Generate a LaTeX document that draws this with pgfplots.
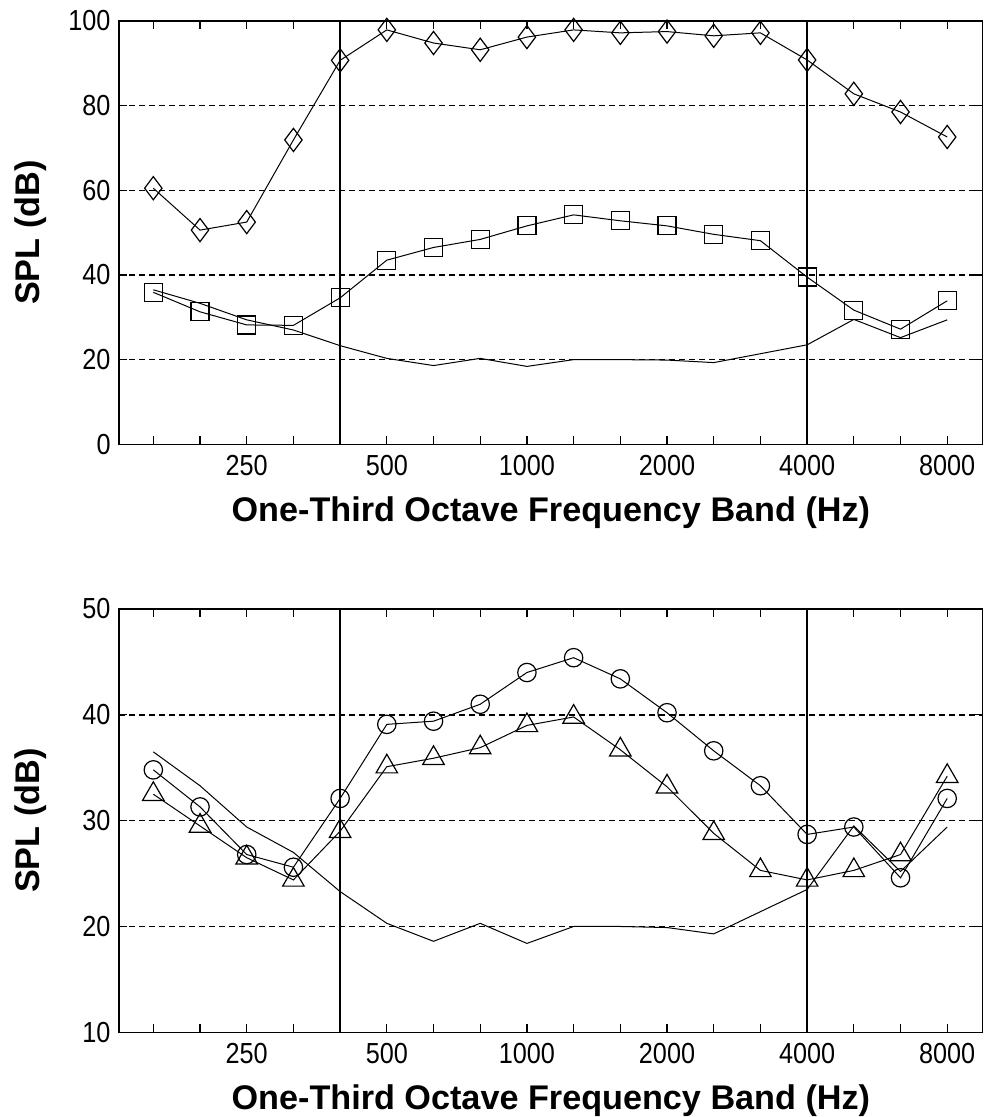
\documentclass[border=0pt]{standalone}
\usepackage{fontspec}
\setmainfont{Liberation Sans}
\newfontfamily\tickfont[FakeStretch=0.87]{Liberation Sans}
\usepackage{pgfplots}
\usepackage{pgfplotstable}
\pgfplotsset{compat=1.18}

% band index: 1=160 Hz ... 18=8000 Hz
\pgfplotstableread{
i  noise  diam  sq    circ  tri
1  36.5   60.5  35.9  34.8  32.5
2  33.3   50.6  31.3  31.3  29.5
3  29.4   52.5  28.2  26.8  26.5
4  27.0   71.9  28.1  25.6  24.4
5  23.3   90.7  34.6  32.1  29.0
6  20.3   97.9  43.5  39.1  35.1
7  18.6   94.8  46.5  39.4  35.9
8  20.3   93.2  48.4  41.0  36.9
9  18.4   96.2  51.6  44.0  39.0
10 20.0   97.9  54.2  45.4  39.8
11 20.0   97.2  52.8  43.4  36.7
12 19.9   97.5  51.6  40.2  33.2
13 19.3   96.5  49.6  36.6  28.8
14 21.4   97.2  48.1  33.3  25.3
15 23.5   90.8  39.5  28.7  24.4
16 29.5   82.8  31.7  29.4  25.3
17 25.2   78.5  27.2  24.6  26.8
18 29.4   72.6  33.9  32.1  34.2
}\bands

\pgfplotsset{
  myaxis/.style={
    scale only axis, width=431.85pt, height=211.65pt,
    xmin=0.265, xmax=18.76,
    xtick={1,...,18},
    xticklabels={,,250,,,500,,,1000,,,2000,,,4000,,,8000},
    tick align=inside, major tick length=4pt,
    ymajorgrids,
    grid style={dash pattern=on 3.2pt off 1.8pt, line width=0.7pt, black},
    axis line style={line width=0.7pt},
    every tick/.style={line width=0.6pt, black},
    /pgf/number format/assume math mode=true,
    ticklabel style={font=\tickfont\fontsize{14.5}{16}\selectfont},
    xticklabel style={yshift=-2pt},
    yticklabel style={xshift=-0.7pt},
    label style={font=\bfseries\fontsize{17.1}{20}\selectfont},
    xlabel={One-Third Octave Frequency Band (Hz)},
    ylabel={SPL (dB)},
    xlabel style={at={(axis description cs:0.5,-0.161)}, anchor=center},
    ylabel style={at={(axis description cs:-0.1025,0.5)}, anchor=center},
    clip=false,
  },
  dline/.style={black, line width=0.5pt, mark options={solid, line width=0.6pt}},
}

\begin{document}
\begin{tikzpicture}
\path[use as bounding box] (0,0) rectangle (492pt,-558.5pt);

\begin{axis}[myaxis, at={(59.5pt,-222.15pt)}, anchor=south west,
  ymin=0, ymax=100, ytick={0,20,40,60,80,100}]
  \addplot[black, line width=0.8pt] coordinates {(5,0) (5,100)};
  \addplot[black, line width=0.8pt] coordinates {(15,0) (15,100)};
  \addplot[dline, no marks] table[x=i, y=noise] {\bands};
  \addplot[dline, mark=square, mark size=4.5pt] table[x=i, y=sq] {\bands};
  \addplot[dline, mark=diamond, mark size=5.8pt] table[x=i, y=diam] {\bands};
\end{axis}

\begin{axis}[myaxis, at={(59.5pt,-516.15pt)}, anchor=south west,
  ymin=10, ymax=50, ytick={10,20,30,40,50}]
  \addplot[black, line width=0.8pt] coordinates {(5,10) (5,50)};
  \addplot[black, line width=0.8pt] coordinates {(15,10) (15,50)};
  \addplot[dline, no marks] table[x=i, y=noise] {\bands};
  \addplot[dline, mark=o, mark size=4.6pt] table[x=i, y=circ] {\bands};
  \addplot[dline, mark=triangle, mark size=6.2pt] table[x=i, y=tri] {\bands};
\end{axis}
\end{tikzpicture}
\end{document}
